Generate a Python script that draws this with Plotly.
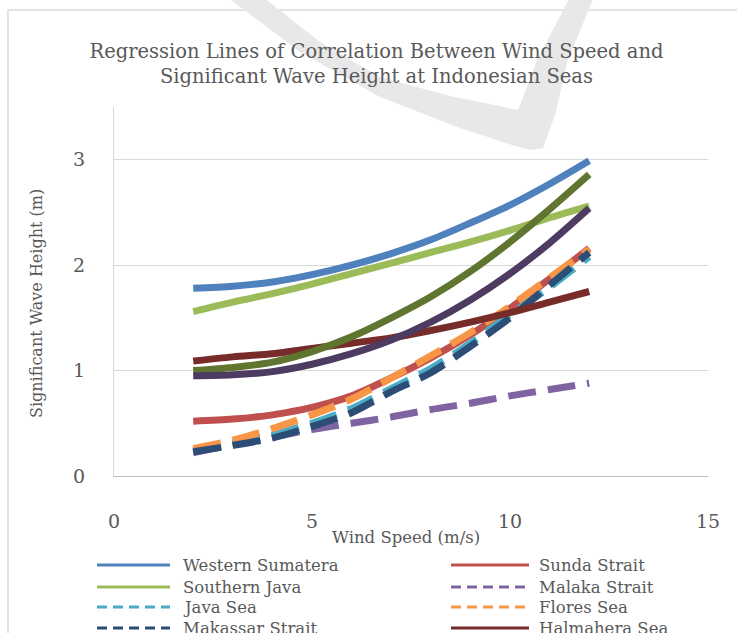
import plotly.graph_objects as go

# Regression curves of significant wave height vs wind speed
wind_speed = [2, 3, 4, 5, 6, 7, 8, 9, 10, 11, 12]

western_sumatera = [1.78, 1.80, 1.84, 1.91, 2.00, 2.11, 2.24, 2.40, 2.57, 2.77, 2.99]
sunda_strait     = [0.52, 0.54, 0.58, 0.65, 0.76, 0.93, 1.12, 1.34, 1.59, 1.87, 2.16]
southern_java    = [1.56, 1.65, 1.73, 1.82, 1.92, 2.02, 2.12, 2.22, 2.33, 2.45, 2.56]
malaka_strait    = [0.22, 0.30, 0.37, 0.44, 0.50, 0.56, 0.63, 0.69, 0.76, 0.82, 0.88]
java_sea         = [0.24, 0.31, 0.39, 0.50, 0.64, 0.83, 1.02, 1.26, 1.53, 1.79, 2.08]
flores_sea       = [0.26, 0.34, 0.45, 0.58, 0.73, 0.93, 1.14, 1.36, 1.61, 1.88, 2.15]
makassar_strait  = [0.23, 0.29, 0.36, 0.47, 0.60, 0.80, 0.98, 1.23, 1.50, 1.81, 2.12]
halmahera_sea    = [1.09, 1.13, 1.16, 1.21, 1.26, 1.31, 1.38, 1.46, 1.55, 1.65, 1.75]
series_9         = [1.00, 1.03, 1.08, 1.18, 1.32, 1.50, 1.70, 1.94, 2.22, 2.53, 2.86]
series_10        = [0.95, 0.96, 0.99, 1.06, 1.16, 1.29, 1.46, 1.67, 1.92, 2.21, 2.54]

series_names = ["Western Sumatera", "Sunda Strait", "Southern Java", "Malaka Strait",
                "Java Sea", "Flores Sea", "Makassar Strait", "Halmahera Sea", "", ""]
series_values = [western_sumatera, sunda_strait, southern_java, malaka_strait,
                 java_sea, flores_sea, makassar_strait, halmahera_sea, series_9, series_10]
series_colors = ["#4F81BD", "#C0504D", "#9BBB59", "#8064A2", "#4BACC6",
                 "#F79646", "#2C4D75", "#772C2A", "#5F7530", "#4D3B62"]
series_dashed = [False, False, False, True, True, True, True, False, False, False]

x_ticks = [0, 5, 10, 15]
y_ticks = [0, 1, 2, 3]

W, H = 737, 633
ML, MR, MT, MB = 114, 29, 107, 157
PW, PH = W - ML - MR, H - MT - MB

FONT = "DejaVu Serif"
TEXT = "#595959"


def fx(px):
    return (px - ML) / PW


def fy(py):
    return 1 - (py - MT) / PH


fig = go.Figure()

for name, vals, col, dashed in zip(series_names, series_values, series_colors, series_dashed):
    fig.add_trace(go.Scatter(
        x=wind_speed, y=vals, mode="lines", name=name or None,
        line=dict(color=col, width=7, shape="spline", smoothing=0.8,
                  dash="28px,12px" if dashed else "solid"),
        showlegend=False,
    ))

shapes = []
annotations = []

# light chart-area frame
shapes.append(dict(type="rect", xref="paper", yref="paper",
                   x0=fx(8), x1=fx(760), y0=fy(700), y1=fy(10),
                   line=dict(color="#D9D9D9", width=1.5), layer="below"))

# gray check-mark emblem behind the title
mark = [(227, -3), (300, 52), (380, 97), (460, 128), (512, 145), (530, 150), (543, 148),
        (556, 112), (567, 62), (594, -3), (570, -3), (537, 60), (518, 110),
        (450, 96), (380, 77), (320, 42), (263, -3)]
path = "M " + " L ".join(f"{fx(a):.4f},{fy(b):.4f}" for a, b in mark) + " Z"
shapes.append(dict(type="path", xref="paper", yref="paper", path=path,
                   fillcolor="#E8E8E8", line=dict(width=0), layer="below"))

# legend, two columns filled row by row
col_line_x = [(97, 170), (451, 529)]
col_text_x = [181, 537]
row_y = [565, 587, 607, 628]
for i in range(8):
    r, c = divmod(i, 2)
    x0, x1 = col_line_x[c]
    y = row_y[r]
    shapes.append(dict(type="line", xref="paper", yref="paper",
                       x0=fx(x0), x1=fx(x1), y0=fy(y), y1=fy(y),
                       line=dict(color=series_colors[i], width=3,
                                 dash="10px,6px" if series_dashed[i] else "solid")))
    annotations.append(dict(xref="paper", yref="paper", x=fx(col_text_x[c]), y=fy(y),
                            xanchor="left", yanchor="middle", showarrow=False,
                            text=series_names[i], font=dict(family=FONT, size=16.5, color=TEXT)))

# axis titles
annotations.append(dict(xref="paper", yref="paper", x=fx(406), y=fy(537),
                        xanchor="center", yanchor="middle", showarrow=False,
                        text="Wind Speed (m/s)", font=dict(family=FONT, size=16.5, color=TEXT)))
annotations.append(dict(xref="paper", yref="paper", x=fx(36), y=fy(303),
                        xanchor="center", yanchor="middle", showarrow=False, textangle=-90,
                        text="Significant Wave Height (m)", font=dict(family=FONT, size=16, color=TEXT)))

fig.update_layout(
    width=W, height=H,
    margin=dict(l=ML, r=MR, t=MT, b=MB),
    paper_bgcolor="white", plot_bgcolor="white",
    title=dict(text="Regression Lines of Correlation Between Wind Speed and<br>Significant Wave Height at Indonesian Seas",
               x=376.5 / W, xanchor="center", y=1 - 58 / H, yanchor="middle",
               font=dict(family=FONT, size=19.5, color=TEXT)),
    shapes=shapes, annotations=annotations,
    showlegend=False,
    xaxis=dict(range=[0, 15], tickvals=x_ticks, showgrid=False, zeroline=False,
               showline=True, linecolor="#BFBFBF", linewidth=1, ticks="",
               ticklabelstandoff=28, tickfont=dict(family=FONT, size=19, color=TEXT)),
    yaxis=dict(range=[0, 3.5], tickvals=y_ticks, showgrid=True, gridcolor="#D9D9D9",
               gridwidth=1, zeroline=False, showline=True, linecolor="#D9D9D9",
               linewidth=1, ticks="", ticklabelstandoff=24,
               tickfont=dict(family=FONT, size=19, color=TEXT)),
)

fig.write_html("out.html")
